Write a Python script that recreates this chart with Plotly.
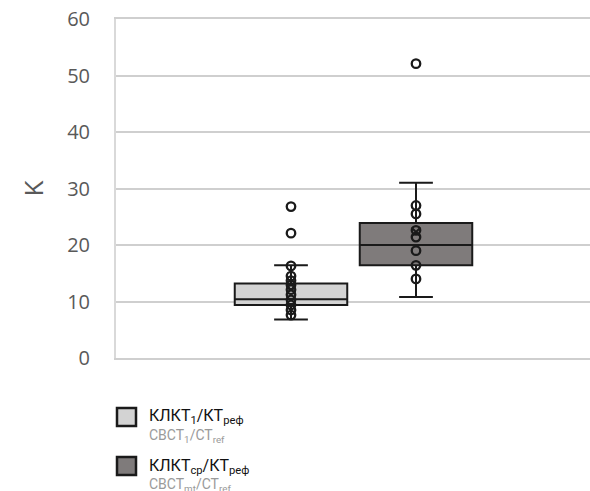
import plotly.graph_objects as go

# ---- data ----
groups = [1, 2]
q1 = [9.4, 16.4]
median = [10.4, 20.0]
q3 = [13.2, 23.9]
lower = [6.8, 10.8]
upper = [16.4, 31.0]
means = [12.1, 22.3]
points_g1 = [7.6, 8.5, 9.4, 10.3, 11.2, 12.1, 12.9, 13.7, 14.5, 16.3, 22.1, 26.8]
points_g2 = [14.0, 16.4, 19.0, 21.4, 22.6, 25.5, 27.0, 52.1]
fills = ["#d3d3d3", "#7f7b7b"]
legend_main = ["КЛКТ<sub>1</sub>/КТ<sub>реф</sub>", "КЛКТ<sub>ср</sub>/КТ<sub>реф</sub>"]
legend_sub = ["CBCT<sub>1</sub>/CT<sub>ref</sub>", "CBCT<sub>mt</sub>/CT<sub>ref</sub>"]
yticks = [0, 10, 20, 30, 40, 50, 60]

W, H = 590, 491

fig = go.Figure()
for i, g in enumerate(groups):
    fig.add_trace(go.Box(
        x=[g], q1=[q1[i]], median=[median[i]], q3=[q3[i]],
        lowerfence=[lower[i]], upperfence=[upper[i]],
        width=0.9, whiskerwidth=0.3, fillcolor=fills[i],
        line=dict(color="#1a1a1a", width=2), boxpoints=False,
        showlegend=False, hoverinfo="skip"))

for g, pts in zip(groups, [points_g1, points_g2]):
    fig.add_trace(go.Scatter(
        x=[g] * len(pts), y=pts, mode="markers", showlegend=False,
        marker=dict(symbol="circle", size=8.5, color="rgba(0,0,0,0)",
                    line=dict(color="#1a1a1a", width=2.3))))

fig.add_trace(go.Scatter(
    x=groups, y=means, mode="markers", showlegend=False,
    marker=dict(symbol="x-thin", size=9, color="#1a1a1a",
                line=dict(color="#1a1a1a", width=2))))

# manual legend (page pixel positions converted to paper coords)
PL, PR, PT, PB = 116, 590, 19, 358
PW, PH = PR - PL, PB - PT
def px(x):
    return (x - PL) / PW
def py(y):
    return (PB - y) / PH

sq_y = [[408, 426], [457, 475]]
for i in range(2):
    y0, y1 = sq_y[i]
    fig.add_shape(type="rect", xref="paper", yref="paper",
                  x0=px(117), x1=px(136), y0=py(y1), y1=py(y0),
                  fillcolor=fills[i], line=dict(color="#1a1a1a", width=2.5))
    fig.add_annotation(xref="paper", yref="paper", x=px(147), y=py(y0 + 9),
                       xanchor="left", yanchor="middle", showarrow=False,
                       text=legend_main[i],
                       font=dict(family="Roboto", size=16, color="#111111"))
    fig.add_annotation(xref="paper", yref="paper", x=px(147), y=py(y0 + 28),
                       xanchor="left", yanchor="middle", showarrow=False,
                       text=legend_sub[i],
                       font=dict(family="Roboto", size=14, color="#9a9a9a"))

fig.update_layout(
    width=W, height=H,
    margin=dict(l=PL, r=W - PR, t=PT, b=H - PB),
    paper_bgcolor="white", plot_bgcolor="white",
    font=dict(family="Open Sans", color="#595959"),
    xaxis=dict(range=[-0.4, 3.392], showticklabels=False, showgrid=False,
               zeroline=False, showline=True, mirror=True, linecolor="#cfcfcf",
               linewidth=1.5, automargin=False),
    yaxis=dict(range=[0, 60], tickvals=yticks, showgrid=True, gridcolor="#cfcfcf",
               gridwidth=1.5, zeroline=False, showline=True, linecolor="#d9d9d9",
               linewidth=2, ticks="outside", ticklen=20, tickcolor="rgba(0,0,0,0)",
               automargin=False, ticklabeloverflow="allow",
               tickfont=dict(size=20, color="#595959", family="Open Sans"),
               title=dict(text="K", font=dict(size=26, color="#595959"), standoff=16)),
)

fig.write_html("out.html", config={"displayModeBar": False},
               post_script="document.body.style.margin='0';document.body.style.overflow='hidden';")
